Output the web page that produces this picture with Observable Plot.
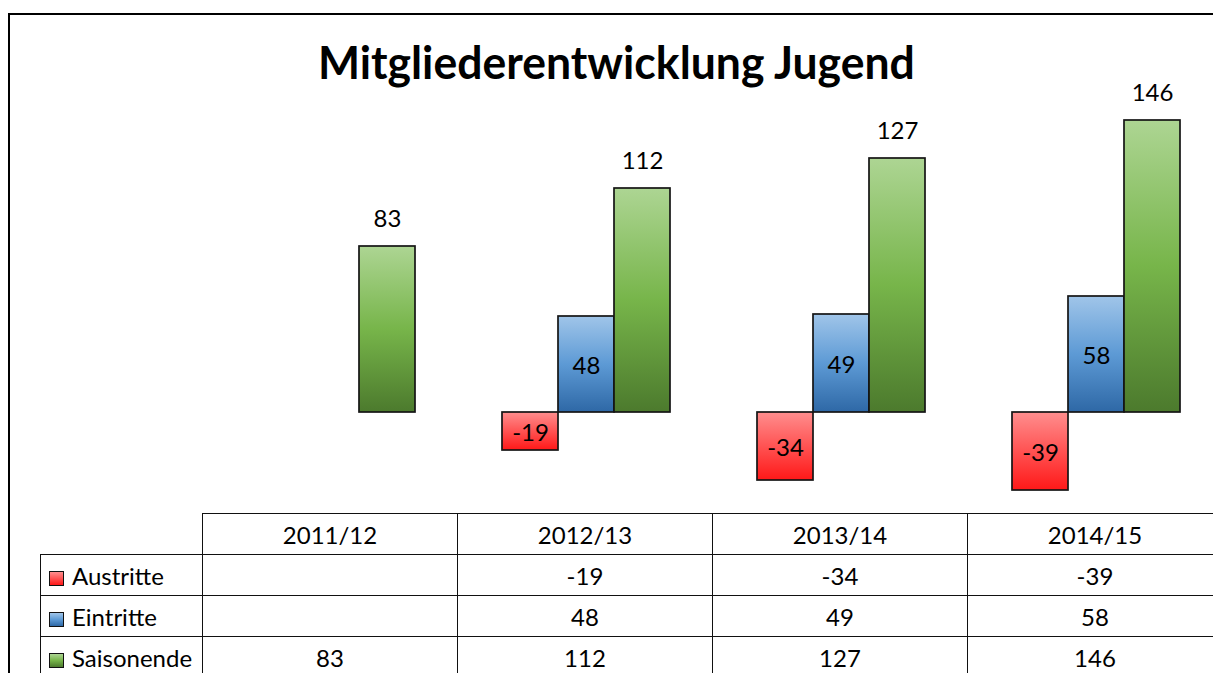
<!DOCTYPE html>
<html>
<head>
<meta charset="utf-8">
<script src="https://cdn.jsdelivr.net/npm/d3@7"></script>
<script src="https://cdn.jsdelivr.net/npm/@observablehq/plot@0.6"></script>
<style>
  html, body { margin: 0; padding: 0; background: #fff; overflow: hidden; width: 1213px; height: 673px; }
  #frame { position: absolute; left: 8px; top: 13px; width: 1300px; height: 720px; border: 2px solid #000; box-sizing: border-box; }
  #title { position: absolute; left: 0; top: 39px; width: 1233px; text-align: center; font-family: Lato, sans-serif; font-weight: bold; font-size: 46px; line-height: 46px; color: #000; white-space: nowrap; }
  #title span { display: inline-block; transform-origin: 50% 50%; }
  #chart { position: absolute; left: 0; top: 0; width: 1230px; }
  #chart svg { max-width: none !important; }
  #tbl { position: absolute; left: 40px; top: 513px; width: 1182px; border-collapse: collapse; table-layout: fixed; font-family: Lato, sans-serif; font-size: 24px; color: #000; }
  #tbl td { border: 1px solid #111; padding: 0; height: 40px; text-align: center; vertical-align: middle; white-space: nowrap; overflow: hidden; }
  #tbl td.blank { border-top: none; border-left: none; }
  #tbl td.lab { text-align: left; padding-left: 8px; }
  .key { display: inline-block; width: 13px; height: 13px; border: 1px solid #111; margin-right: 8px; vertical-align: -1px; }
</style>
</head>
<body>
<div id="frame"></div>
<div id="title"><span>Mitgliederentwicklung Jugend</span></div>
<div id="chart"></div>
<table id="tbl"></table>
<script>
// ---- data ----
const categories = ["2011/12", "2012/13", "2013/14", "2014/15"];
const seriesNames = ["Austritte", "Eintritte", "Saisonende"];
const austritte = [null, -19, -34, -39];
const eintritte = [null, 48, 49, 58];
const saisonende = [83, 112, 127, 146];

// ---- styles ----
const gradients = {
  Austritte: [["0%", "#ff8e8e"], ["100%", "#ff1818"]],
  Eintritte: [["0%", "#a0c5e9"], ["50%", "#5d9ad5"], ["100%", "#2e68a6"]],
  Saisonende: [["0%", "#add593"], ["50%", "#77b54a"], ["100%", "#4c7a2d"]]
};
const gradId = s => "grad-" + s;

const seriesValues = [austritte, eintritte, saisonende];
const rows = [];
categories.forEach((c, i) => {
  seriesNames.forEach((s, j) => {
    const v = seriesValues[j][i];
    if (v !== null && v !== undefined) rows.push({cat: c, series: s, value: v});
  });
});

const chart = Plot.plot({
  width: 1230,
  height: 505,
  marginLeft: 203,
  marginRight: 7,
  marginTop: 0,
  marginBottom: 0,
  style: {fontFamily: "Lato, sans-serif", fontSize: "24px", color: "#000", background: "transparent", overflow: "visible", maxWidth: "none"},
  facet: {data: rows, x: "cat"},
  fx: {domain: categories, padding: 0, axis: null},
  x: {domain: seriesNames, paddingInner: 0, paddingOuter: 0.737, axis: null},
  y: {domain: [-45, 160], range: [502, 92], axis: null},
  color: {domain: seriesNames, range: seriesNames.map(s => `url(#${gradId(s)})`)},
  marks: [
    Plot.barY(rows, {x: "series", y: "value", fill: "series", stroke: "#151515", strokeWidth: 1.7, inset: 0}),
    Plot.text(rows, {filter: d => d.series === "Saisonende", x: "series", y: "value", text: d => String(d.value), dy: -27, fill: "#000", fontSize: 24}),
    Plot.text(rows, {filter: d => d.series !== "Saisonende", x: "series", y: d => d.value / 2, text: d => String(d.value), dy: 2, fill: "#000", fontSize: 24})
  ]
});

// gradient definitions
const svgEl = chart.tagName.toLowerCase() === "svg" ? chart : chart.querySelector("svg");
svgEl.style.maxWidth = "none";
const defs = d3.select(svgEl).insert("defs", ":first-child");
for (const s of seriesNames) {
  const g = defs.append("linearGradient").attr("id", gradId(s)).attr("x1", 0).attr("y1", 0).attr("x2", 0).attr("y2", 1);
  for (const [off, col] of gradients[s]) g.append("stop").attr("offset", off).attr("stop-color", col);
}
document.getElementById("chart").appendChild(chart);

// ---- data table ----
const tbl = d3.select("#tbl");
const colgroup = tbl.append("colgroup");
colgroup.append("col").style("width", "162px");
categories.forEach(() => colgroup.append("col").style("width", "255px"));
const head = tbl.append("tr");
head.append("td").attr("class", "blank");
categories.forEach(c => head.append("td").text(c));
seriesNames.forEach((s, j) => {
  const tr = tbl.append("tr");
  const lab = tr.append("td").attr("class", "lab");
  const stops = gradients[s].map(([o, c]) => `${c} ${o}`).join(", ");
  lab.append("span").attr("class", "key").style("background", `linear-gradient(to bottom, ${stops})`);
  lab.append("span").text(s);
  categories.forEach((c, i) => {
    const v = seriesValues[j][i];
    tr.append("td").text(v === null ? "" : String(v));
  });
});

// ---- fit title width ----
function fitTitle() {
  const sp = document.querySelector("#title span");
  sp.style.transform = "none";
  const w = sp.getBoundingClientRect().width;
  if (w > 0) sp.style.transform = `scaleX(${597 / w})`;
}
fitTitle();
if (document.fonts && document.fonts.ready) document.fonts.ready.then(fitTitle);
</script>
</body>
</html>
